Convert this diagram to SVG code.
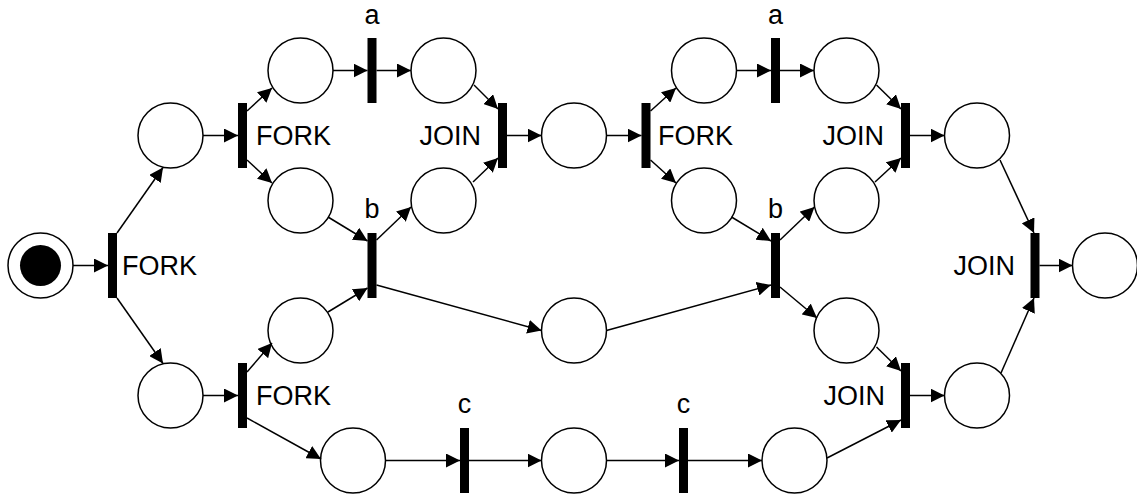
<svg xmlns="http://www.w3.org/2000/svg" width="1137" height="495" viewBox="0 0 1137 495">
<style>
.pl{fill:#fff;stroke:#000;stroke-width:1.5}
.tr{fill:#000}
.lb{font-family:"Liberation Sans",Arial,sans-serif;font-size:27px;fill:#000}
.e{text-anchor:end}
.m{text-anchor:middle}
.c line{stroke:#000;stroke-width:1.5;marker-end:url(#ah)}
</style>
<defs>
<marker id="ah" markerUnits="userSpaceOnUse" markerWidth="14" markerHeight="14" refX="14" refY="7" orient="auto">
<path d="M0,0 L14,7 L0,14 z" fill="#000"/>
</marker>
</defs>
<rect width="1137" height="495" fill="#fff"/>
<g id="p0"><circle class="pl" cx="40.5" cy="265.5" r="32.5"/><circle cx="40.5" cy="265.5" r="20.5" fill="#000"/></g>
<g id="p1"><circle class="pl" cx="170.5" cy="135.5" r="32.5"/></g>
<g id="p2"><circle class="pl" cx="170.5" cy="395.5" r="32.5"/></g>
<g id="p3"><circle class="pl" cx="300.5" cy="70.5" r="32.5"/></g>
<g id="p4"><circle class="pl" cx="300.5" cy="200.5" r="32.5"/></g>
<g id="p5"><circle class="pl" cx="300.5" cy="330.5" r="32.5"/></g>
<g id="p6"><circle class="pl" cx="353" cy="460.5" r="32.5"/></g>
<g id="p7"><circle class="pl" cx="443.5" cy="70.5" r="32.5"/></g>
<g id="p8"><circle class="pl" cx="443.5" cy="200.5" r="32.5"/></g>
<g id="p9"><circle class="pl" cx="574" cy="135.5" r="32.5"/></g>
<g id="p10"><circle class="pl" cx="574" cy="330.5" r="32.5"/></g>
<g id="p11"><circle class="pl" cx="574" cy="460.5" r="32.5"/></g>
<g id="p12"><circle class="pl" cx="704" cy="70.5" r="32.5"/></g>
<g id="p13"><circle class="pl" cx="704" cy="200.5" r="32.5"/></g>
<g id="p14"><circle class="pl" cx="846.5" cy="70.5" r="32.5"/></g>
<g id="p15"><circle class="pl" cx="846.5" cy="200.5" r="32.5"/></g>
<g id="p16"><circle class="pl" cx="846.5" cy="330.5" r="32.5"/></g>
<g id="p17"><circle class="pl" cx="794.5" cy="460.5" r="32.5"/></g>
<g id="p18"><circle class="pl" cx="977" cy="135.5" r="32.5"/></g>
<g id="p19"><circle class="pl" cx="977" cy="395.5" r="32.5"/></g>
<g id="p20"><circle class="pl" cx="1105" cy="265.5" r="32.5"/></g>

<g id="t1"><rect class="tr" x="108" y="233" width="9" height="65"/><text class="lb" x="122" y="275">FORK</text></g>
<g id="t2"><rect class="tr" x="238" y="103" width="9" height="65"/><text class="lb" x="256" y="145">FORK</text></g>
<g id="t3"><rect class="tr" x="238" y="363" width="9" height="65"/><text class="lb" x="256" y="405">FORK</text></g>
<g id="ta1"><rect class="tr" x="367.5" y="38" width="9" height="65"/><text class="lb m" x="372" y="24">a</text></g>
<g id="tb1"><rect class="tr" x="367.5" y="233" width="9" height="65"/><text class="lb m" x="372" y="218">b</text></g>
<g id="tc1"><rect class="tr" x="460" y="428" width="9" height="65"/><text class="lb m" x="464.5" y="413">c</text></g>
<g id="tj1"><rect class="tr" x="498" y="103" width="9" height="65"/><text class="lb e" x="481" y="145">JOIN</text></g>
<g id="tf"><rect class="tr" x="641.5" y="103" width="9" height="65"/><text class="lb" x="658" y="145">FORK</text></g>
<g id="ta2"><rect class="tr" x="771" y="38" width="9" height="65"/><text class="lb m" x="775.5" y="24">a</text></g>
<g id="tb2"><rect class="tr" x="771" y="233" width="9" height="65"/><text class="lb m" x="775.5" y="218">b</text></g>
<g id="tc2"><rect class="tr" x="679" y="428" width="9" height="65"/><text class="lb m" x="683.5" y="413">c</text></g>
<g id="tj2"><rect class="tr" x="901" y="103" width="9" height="65"/><text class="lb e" x="884" y="145">JOIN</text></g>
<g id="tj3"><rect class="tr" x="901" y="363" width="9" height="65"/><text class="lb e" x="885" y="405">JOIN</text></g>
<g id="tj4"><rect class="tr" x="1030.5" y="233" width="9" height="65"/><text class="lb e" x="1015" y="275">JOIN</text></g>

<g id="connectors" class="c">
<line x1="73" y1="265.5" x2="108" y2="265.5"/>
<line x1="117" y1="233" x2="163" y2="167.5"/>
<line x1="117" y1="298" x2="163" y2="363.5"/>
<line x1="203" y1="135.5" x2="238" y2="135.5"/>
<line x1="247" y1="111" x2="272" y2="88"/>
<line x1="247" y1="160" x2="272" y2="183"/>
<line x1="333" y1="70.5" x2="367.5" y2="70.5"/>
<line x1="376.5" y1="70.5" x2="411" y2="70.5"/>
<line x1="328" y1="217" x2="367.5" y2="241"/>
<line x1="376.5" y1="240" x2="411" y2="207"/>
<line x1="376.5" y1="285" x2="541.5" y2="330.5"/>
<line x1="328" y1="312" x2="367.5" y2="288"/>
<line x1="474" y1="85" x2="498" y2="109"/>
<line x1="473" y1="182" x2="498" y2="158"/>
<line x1="507" y1="135.5" x2="541.5" y2="135.5"/>
<line x1="606.5" y1="135.5" x2="641.5" y2="135.5"/>
<line x1="650.5" y1="111" x2="676" y2="88"/>
<line x1="650.5" y1="160" x2="676" y2="183"/>
<line x1="736.5" y1="70.5" x2="771" y2="70.5"/>
<line x1="780" y1="70.5" x2="814" y2="70.5"/>
<line x1="731.5" y1="217" x2="771" y2="241"/>
<line x1="606.5" y1="330.5" x2="771" y2="285"/>
<line x1="780" y1="240" x2="814.5" y2="207"/>
<line x1="780" y1="287" x2="817" y2="318"/>
<line x1="876.5" y1="85" x2="901" y2="109"/>
<line x1="875" y1="182" x2="901" y2="158"/>
<line x1="910" y1="135.5" x2="944.5" y2="135.5"/>
<line x1="1000" y1="160" x2="1034" y2="233"/>
<line x1="1001" y1="373" x2="1034" y2="298"/>
<line x1="1039.5" y1="265.5" x2="1072.5" y2="265.5"/>
<line x1="247" y1="418" x2="321" y2="459"/>
<line x1="247" y1="372" x2="272" y2="343"/>
<line x1="203" y1="395.5" x2="238" y2="395.5"/>
<line x1="385.5" y1="460.5" x2="460" y2="460.5"/>
<line x1="469" y1="460.5" x2="541.5" y2="460.5"/>
<line x1="606.5" y1="460.5" x2="679" y2="460.5"/>
<line x1="688" y1="460.5" x2="762" y2="460.5"/>
<line x1="827" y1="458" x2="901" y2="420"/>
<line x1="876.5" y1="347" x2="901" y2="371"/>
<line x1="910" y1="395.5" x2="944.5" y2="395.5"/>
</g>
</svg>
